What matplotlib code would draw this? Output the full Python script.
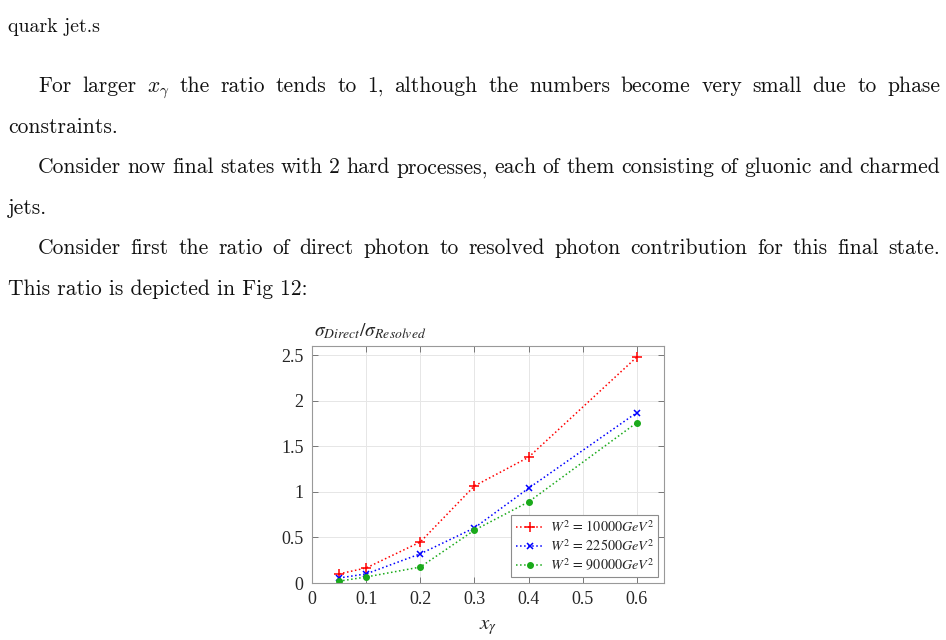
import numpy as np
import matplotlib
matplotlib.use("Agg")
import matplotlib.pyplot as plt

# data
x_gamma = [0.05, 0.1, 0.2, 0.3, 0.4, 0.6]
ratio_10000 = [0.10, 0.165, 0.45, 1.065, 1.38, 2.48]
ratio_22500 = [0.055, 0.10, 0.32, 0.605, 1.04, 1.87]
ratio_90000 = [0.02, 0.066, 0.175, 0.58, 0.89, 1.76]
series_labels = [r"$W^2\,=\,10000GeV^2$", r"$W^2\,=\,22500GeV^2$", r"$W^2\,=\,90000GeV^2$"]
x_ticks = [0, 0.1, 0.2, 0.3, 0.4, 0.5, 0.6]
x_ticklabels = ["0", "0.1", "0.2", "0.3", "0.4", "0.5", "0.6"]
y_ticks = [0, 0.5, 1, 1.5, 2, 2.5]
y_ticklabels = ["0", "0.5", "1", "1.5", "2", "2.5"]

# page text: (line, justified, indent)
page_lines = [
    ("For larger $x_\\gamma$ the ratio tends to 1, although the numbers become very small due to phase", True, True),
    ("constraints.", False, False),
    ("Consider now final states with 2 hard processes, each of them consisting of gluonic and charmed", True, True),
    ("jets.", False, False),
    ("Consider first the ratio of direct photon to resolved photon contribution for this final state.", True, True),
    ("This ratio is depicted in Fig 12:", False, False),
]

W, H = 946, 640
fig = plt.figure(figsize=(W / 100, H / 100), dpi=100)
renderer = fig.canvas.get_renderer()

text_font = dict(family="cmr10", size=15.5, math_fontfamily="cm", color="#111111")


def put_line(line, y_px, x0_px, x1_px, justify, **kw):
    font = dict(text_font, **kw)
    words = line.split(" ")
    if not justify:
        fig.text(x0_px / W, 1 - y_px / H, line, ha="left", va="baseline", **font)
        return
    objs = [fig.text(0, 1 - y_px / H, w, ha="left", va="baseline", **font) for w in words]
    widths = [o.get_window_extent(renderer).width for o in objs]
    gap = (x1_px - x0_px - sum(widths)) / (len(words) - 1)
    x = x0_px
    for o, w in zip(objs, widths):
        o.set_x(x / W)
        x += w + gap


put_line("quark jet.s", 32, 8, 940, False, size=14.3)
base = 92
for i, (line, just, indent) in enumerate(page_lines):
    x0 = 38 if indent else 8
    put_line(line, base + i * 40.6, x0, 940, just)

# chart
ax = fig.add_axes([312 / W, (H - 583) / H, (664 - 312) / W, (583 - 346) / H])
ax.plot(x_gamma, ratio_10000, ":", color="red", marker="+", markersize=6.5, mew=1.1, lw=1.1, label=series_labels[0])
ax.plot(x_gamma, ratio_22500, ":", color="blue", marker="x", markersize=4.5, mew=1.1, lw=1.1, label=series_labels[1])
ax.plot(x_gamma, ratio_90000, ":", color="#1aaa1a", marker="o", markersize=4, lw=1.1, label=series_labels[2])

ax.set_xlim(0, 0.65)
ax.set_ylim(0, 2.6)
ax.set_xticks(x_ticks)
ax.set_xticklabels(x_ticklabels, family="Liberation Serif", fontsize=13, color="#262626")
ax.set_yticks(y_ticks)
ax.set_yticklabels(y_ticklabels, family="Liberation Serif", fontsize=13, color="#262626")
ax.tick_params(direction="in", length=4, width=0.6, color="0.4", top=True, right=True, pad=6)
ax.grid(True, color="0.9", lw=0.7)
for s in ax.spines.values():
    s.set_color("0.6")
    s.set_linewidth(0.8)

ax.text(0.006, 1.02, r"$\sigma_{Direct}/\sigma_{Resolved}$", transform=ax.transAxes,
        ha="left", va="bottom", fontsize=14, math_fontfamily="stix", color="#262626")
ax.set_xlabel(r"$x_\gamma$", fontsize=15, math_fontfamily="stix", color="#262626", labelpad=6)

leg = ax.legend(loc="lower right", fancybox=False, framealpha=1, edgecolor="0.55",
                prop={"size": 10.2, "family": "Liberation Serif"}, handlelength=2.0,
                handletextpad=0.4, borderpad=0.3, labelspacing=0.2, borderaxespad=0.4)
leg.get_frame().set_linewidth(0.8)
for t in leg.get_texts():
    t.set_math_fontfamily("stix")
    t.set_color("#262626")

fig.savefig("out.png", dpi=100)
